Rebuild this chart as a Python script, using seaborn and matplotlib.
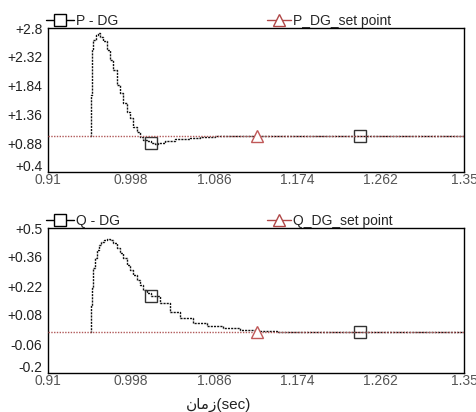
import matplotlib
matplotlib.use('Agg')
import matplotlib.pyplot as plt
import matplotlib.transforms as mtransforms
from matplotlib.lines import Line2D
import seaborn as sns
import pandas as pd

# Datos
p_time = [0.9544, 0.9555, 0.9565, 0.9581, 0.9608, 0.9629, 0.965, 0.9682, 0.9724, 0.9756,
          0.9787, 0.983, 0.9862, 0.9893, 0.9936, 0.9967, 0.9999, 1.0041, 1.0073, 1.0105,
          1.0147, 1.019, 1.023, 1.026, 1.034, 1.044, 1.06, 1.071, 1.087, 1.24, 1.35]
p_value = [1.0, 1.68, 2.45, 2.6, 2.68, 2.72, 2.65, 2.58, 2.43, 2.27,
           2.10, 1.85, 1.72, 1.55, 1.40, 1.30, 1.15, 1.07, 0.99, 0.94,
           0.91, 0.88, 0.87, 0.89, 0.91, 0.95, 0.97, 0.99, 1.0, 1.0, 1.0]

q_time = [0.9544, 0.9555, 0.9565, 0.9581, 0.9597, 0.9618, 0.9639, 0.966, 0.9692, 0.9724,
          0.9756, 0.9787, 0.983, 0.9862, 0.9893, 0.9936, 0.9967, 0.9999, 1.0041, 1.0073,
          1.0105, 1.0147, 1.019, 1.0285, 1.039, 1.0496, 1.0634, 1.0782, 1.0951, 1.1131,
          1.1311, 1.1522, 1.24, 1.35]
q_value = [0.0, 0.128, 0.21, 0.307, 0.355, 0.394, 0.418, 0.432, 0.442, 0.448,
           0.442, 0.428, 0.403, 0.379, 0.355, 0.321, 0.297, 0.273, 0.249, 0.225,
           0.2, 0.186, 0.172, 0.138, 0.094, 0.065, 0.041, 0.027, 0.017, 0.01,
           0.005, 0.0, 0.0, 0.0]

set_time = [0.91, 1.131, 1.35]
p_set = [1.0, 1.0, 1.0]
q_set = [0.0, 0.0, 0.0]

# tiempos donde aparecen los marcadores de cada curva
curve_marks = [1.019, 1.24]
set_marks = [1.131]

x_ticks = [0.91, 0.998, 1.086, 1.174, 1.262, 1.35]
p_ticks = [0.4, 0.88, 1.36, 1.84, 2.32, 2.8]
q_ticks = [-0.2, -0.06, 0.08, 0.22, 0.36, 0.5]

sns.set_style('white')
plt.rcParams['font.family'] = ['Liberation Sans', 'DejaVu Sans']

fig = plt.figure(figsize=(4.77, 4.12), dpi=100)
ax1 = fig.add_axes([48 / 477, 1 - 172 / 412, 416 / 477, 144 / 412])
ax2 = fig.add_axes([48 / 477, 1 - 373 / 412, 416 / 477, 145 / 412])

set_color = '#b05858'
curve_color = '#111111'


def fmt(v):
    return f'{v:+.2f}'.rstrip('0')


def draw_panel(ax, t, v, sp, yticks, name, set_name):
    df = pd.DataFrame({'t': t, 'v': v})
    sdf = pd.DataFrame({'t': set_time, 'v': sp})
    idx = [t.index(m) for m in curve_marks]
    sidx = [set_time.index(m) for m in set_marks]
    sns.lineplot(data=sdf, x='t', y='v', ax=ax, color=set_color, lw=1.0,
                 linestyle=(0, (1, 1)), marker='^', markevery=sidx, markersize=9,
                 mfc='white', mec='#c05858', mew=1.0, zorder=3,
                 estimator=None, sort=False)
    sns.lineplot(data=df, x='t', y='v', ax=ax, color=curve_color, lw=1.0,
                 linestyle=(0, (1.5, 0.8)), drawstyle='steps-post',
                 marker='s', markevery=idx, markersize=8, mfc='none', mec='#333333',
                 mew=1.0, zorder=2, estimator=None, sort=False)
    ax.set_xlim(x_ticks[0], x_ticks[-1])
    ax.set_ylim(yticks[0], yticks[-1])
    ax.set_xticks(x_ticks)
    ax.set_xticklabels([str(x) for x in x_ticks], color='#555555', fontsize=10)
    ax.set_yticks(yticks)
    ax.set_yticklabels([fmt(y) for y in yticks], color='#222222', fontsize=10)
    ax.tick_params(direction='in', length=5, width=1, colors='#222222')
    ax.tick_params(axis='x', pad=1, labelcolor='#555555')
    ax.tick_params(axis='y', pad=4)
    # la etiqueta inferior del eje y queda un poco más arriba, como en el original
    lab = ax.get_yticklabels()[0]
    lab.set_transform(lab.get_transform() +
                      mtransforms.ScaledTranslation(0, 5 / 72, fig.dpi_scale_trans))
    for sp_ in ax.spines.values():
        sp_.set_color('black')
        sp_.set_linewidth(1.0)
    ax.set_xlabel('')
    ax.set_ylabel('')

    h1 = Line2D([], [], color='black', lw=1, marker='s', markersize=8,
                mfc='white', mec='black')
    h2 = Line2D([], [], color='#b04848', lw=1, marker='^', markersize=9,
                mfc='white', mec='#b04848')
    leg1 = ax.legend([h1], [name], loc='lower left', bbox_to_anchor=(-0.005, 1.0),
                     frameon=False, fontsize=10, handlelength=2.0, handletextpad=0.15,
                     borderpad=0, borderaxespad=0)
    ax.add_artist(leg1)
    ax.legend([h2], [set_name], loc='lower left', bbox_to_anchor=(0.527, 1.0),
              frameon=False, fontsize=10, handlelength=1.7, handletextpad=0.15,
              borderpad=0, borderaxespad=0)


draw_panel(ax1, p_time, p_value, p_set, p_ticks, 'P - DG', 'P_DG_set point')
draw_panel(ax2, q_time, q_value, q_set, q_ticks, 'Q - DG', 'Q_DG_set point')

# زمان in visual order (presentation forms, right-to-left)
ax2.set_xlabel('\ufee5\ufe8e\ufee3\ufeaf(sec)', fontsize=11, color='#222222')
ax2.xaxis.set_label_coords(0.409, -0.172)

fig.savefig('out.png', dpi=100)
